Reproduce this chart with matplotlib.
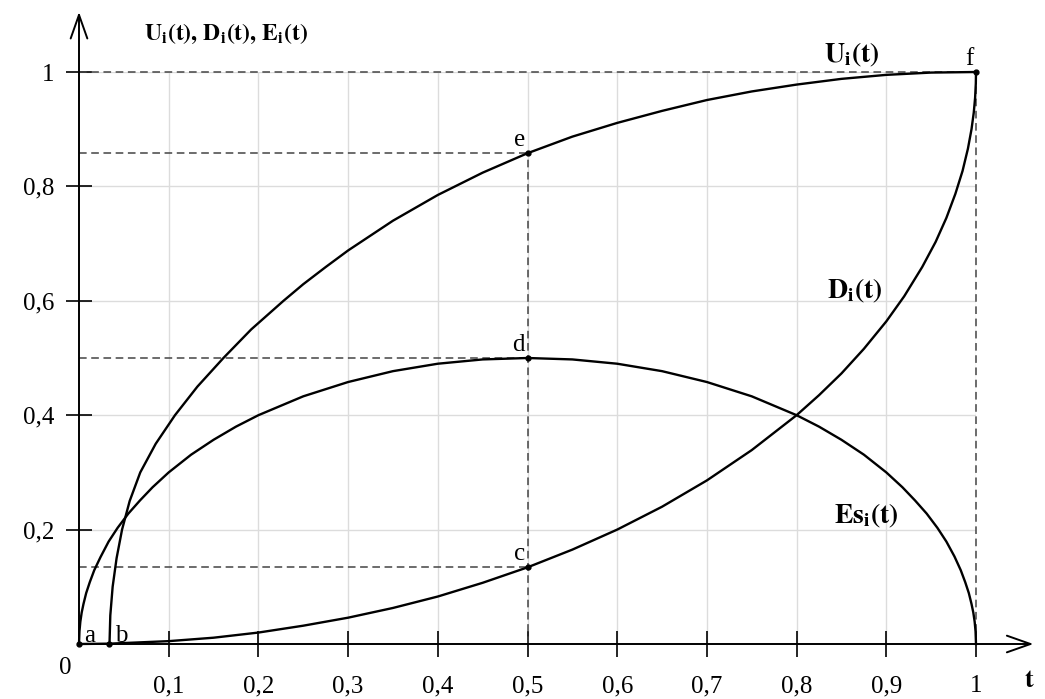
import numpy as np
import matplotlib
matplotlib.use('Agg')
import matplotlib.pyplot as plt

plt.rcParams['font.family'] = ['Liberation Serif', 'DejaVu Serif']
plt.rcParams['mathtext.fontset'] = 'stix'

# values
u_t = [0.034, 0.0349, 0.0375, 0.0419, 0.048, 0.0565, 0.0683, 0.0855, 0.107, 0.132,
       0.161, 0.192, 0.228, 0.25, 0.275, 0.3, 0.35, 0.4, 0.45, 0.5, 0.55, 0.6, 0.65,
       0.7, 0.75, 0.8, 0.85, 0.9, 0.95, 1.0]
u_val = [0.0, 0.05, 0.1, 0.15, 0.2, 0.25, 0.3, 0.35, 0.4, 0.45, 0.5, 0.55, 0.6, 0.629,
         0.659, 0.688, 0.74, 0.785, 0.824, 0.858, 0.887, 0.911, 0.932, 0.951, 0.966,
         0.978, 0.988, 0.995, 0.999, 1.0]

d_t = [0.0, 0.034, 0.1, 0.15, 0.2, 0.25, 0.3, 0.35, 0.4, 0.45, 0.5, 0.55, 0.6, 0.65,
       0.7, 0.75, 0.8, 0.825, 0.85, 0.875, 0.9, 0.92, 0.94, 0.955, 0.967, 0.977, 0.985,
       0.991, 0.995, 0.9975, 0.999, 0.9998, 1.0]
d_val = [0.0, 0.0006, 0.005, 0.011, 0.02, 0.032, 0.046, 0.063, 0.083, 0.107, 0.134,
         0.165, 0.2, 0.24, 0.286, 0.339, 0.4, 0.435, 0.473, 0.516, 0.564, 0.608, 0.659,
         0.703, 0.745, 0.787, 0.827, 0.866, 0.9, 0.929, 0.955, 0.98, 1.0]

es_t = [0.0, 0.0005, 0.0015, 0.003, 0.005, 0.008, 0.012, 0.017, 0.024, 0.033, 0.043,
        0.055, 0.068, 0.082, 0.1, 0.125, 0.15, 0.175, 0.2, 0.25, 0.3, 0.35, 0.4, 0.45,
        0.5, 0.55, 0.6, 0.65, 0.7, 0.75, 0.8, 0.825, 0.85, 0.875, 0.9, 0.918, 0.932,
        0.945, 0.957, 0.967, 0.976, 0.983, 0.988, 0.992, 0.995, 0.997, 0.9985, 0.9995,
        1.0]
es_val = [0.0, 0.022, 0.039, 0.055, 0.07, 0.089, 0.108, 0.129, 0.152, 0.179, 0.203,
          0.228, 0.251, 0.274, 0.3, 0.331, 0.357, 0.38, 0.4, 0.433, 0.458, 0.477, 0.49,
          0.4975, 0.5, 0.4975, 0.49, 0.477, 0.458, 0.433, 0.4, 0.38, 0.357, 0.331, 0.3,
          0.274, 0.251, 0.228, 0.203, 0.179, 0.153, 0.129, 0.108, 0.089, 0.07, 0.055,
          0.039, 0.022, 0.0]

pt_names = ['a', 'b', 'c', 'd', 'e', 'f']
pt_t = [0.0, 0.034, 0.5, 0.5, 0.5, 1.0]
pt_val = [0.0, 0.0, 0.134, 0.5, 0.858, 1.0]

xticks = [0.1, 0.2, 0.3, 0.4, 0.5, 0.6, 0.7, 0.8, 0.9, 1.0]
xlabels = ['0,1', '0,2', '0,3', '0,4', '0,5', '0,6', '0,7', '0,8', '0,9', '1']
yticks = [0.2, 0.4, 0.6, 0.8, 1.0]
ylabels = ['0,2', '0,4', '0,6', '0,8', '1']

fig = plt.figure(figsize=(10.45, 6.99), dpi=100)
ax = fig.add_axes([79 / 1045, 55 / 699, 897 / 1045, 572 / 699])
ax.set_xlim(0, 1)
ax.set_ylim(0, 1)
for s in ax.spines.values():
    s.set_visible(False)

ax.set_xticks(xticks, xlabels)
ax.set_yticks(yticks, ylabels)
ax.tick_params(direction='inout', length=19, width=1.2, labelsize=18, color='black')
ax.tick_params(axis='x', pad=13)
ax.tick_params(axis='y', pad=8)
ax.grid(True, color='#dcdcdc', lw=1)
ax.set_axisbelow(True)

# axes with open arrows
arr = dict(arrowstyle='->,head_length=1.7,head_width=0.6', lw=1.4, color='black',
           shrinkA=0, shrinkB=0)
ax.annotate('', xy=(1.064, 0), xytext=(0, 0), arrowprops=arr, annotation_clip=False)
ax.annotate('', xy=(0, 1.105), xytext=(0, 0), arrowprops=arr, annotation_clip=False)

# dashed guide lines
dash = dict(color='#444444', lw=1.1, ls=(0, (5, 3)), clip_on=False)
for i in [2, 3, 4, 5]:
    ax.plot([0, pt_t[i]], [pt_val[i], pt_val[i]], **dash)
ax.plot([0.5, 0.5], [0, pt_val[4]], **dash)
ax.plot([1, 1], [0, 1], **dash)

curve = dict(color='black', lw=1.7, clip_on=False, zorder=3, solid_joinstyle='round')
ax.plot(u_t, u_val, **curve)
ax.plot(d_t, d_val, **curve)
ax.plot(es_t, es_val, **curve)
ax.plot(pt_t, pt_val, 'o', color='black', ms=3.5, clip_on=False, zorder=4)

# point letters
for name, t, v in zip(pt_names, pt_t, pt_val):
    if name in ('a', 'b'):
        ax.text(t + 0.006, v + 0.004, name, fontsize=18, ha='left', va='baseline')
    else:
        ax.text(t - 0.003, v + 0.012, name, fontsize=18, ha='right', va='baseline')

ax.text(-0.008, -0.022, '0', fontsize=18, ha='right', va='top')
ax.text(0.073, 1.056, r'$\mathbf{U_i(t),\,D_i(t),\,E_i(t)}$', fontsize=17)
ax.text(0.831, 1.017, r'$\mathbf{U_i(t)}$', fontsize=20)
ax.text(0.834, 0.604, r'$\mathbf{D_i(t)}$', fontsize=20)
ax.text(0.842, 0.21, r'$\mathbf{Es_i(t)}$', fontsize=20)
ax.text(1.054, -0.075, r'$\mathbf{t}$', fontsize=19)

fig.savefig('out.png', dpi=100)
